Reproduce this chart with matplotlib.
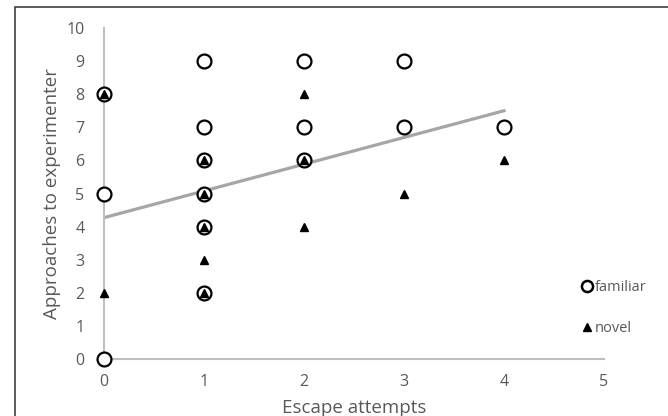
import matplotlib.pyplot as plt
from matplotlib.lines import Line2D
from matplotlib.patches import Rectangle

# values
familiar_x = [0, 0, 0, 1, 1, 1, 1, 1, 1, 2, 2, 2, 3, 3, 4]
familiar_y = [8, 5, 0, 9, 7, 6, 5, 4, 2, 9, 7, 6, 9, 7, 7]
novel_x = [0, 0, 1, 1, 1, 1, 1, 2, 2, 2, 3, 4]
novel_y = [8, 2, 6, 5, 4, 3, 2, 8, 6, 4, 5, 6]
trend_x = [0, 4]
trend_y = [4.27, 7.5]

xticks = [0, 1, 2, 3, 4, 5]
yticks = [0, 1, 2, 3, 4, 5, 6, 7, 8, 9, 10]

grey_txt = "#595959"
grey_ax = "#bfbfbf"

plt.rcParams['font.family'] = ['Open Sans', 'DejaVu Sans']

W, H = 668, 416
fig = plt.figure(figsize=(W / 100, H / 100), dpi=100)
ax = fig.add_axes([104 / W, (H - 359) / H, 500 / W, 331 / H])

# outer frame of the picture
fig.patches.append(Rectangle((15 / W, -0.1), 1.2, (H - 7) / H + 0.1,
                             transform=fig.transFigure, fill=False,
                             edgecolor="#404040", linewidth=1.2))

ax.set_xlim(0, 5)
ax.set_ylim(0, 10)
for s in ["top", "right"]:
    ax.spines[s].set_visible(False)
for s in ["left", "bottom"]:
    ax.spines[s].set_color(grey_ax)
    ax.spines[s].set_linewidth(1.5)
ax.set_xticks(xticks)
ax.set_yticks(yticks)
ax.tick_params(length=0, colors=grey_txt, labelsize=11.5)
ax.tick_params(axis="x", pad=11)
ax.tick_params(axis="y", pad=14)

ax.plot(familiar_x, familiar_y, linestyle="none", marker="o", ms=10,
        mfc="white", mec="black", mew=1.6, clip_on=False, zorder=3)
ax.plot(novel_x, novel_y, linestyle="none", marker="^", ms=6,
        color="black", clip_on=False, zorder=4)
ax.plot(trend_x, trend_y, color="#a6a6a6", linewidth=2.3, zorder=2)

ax.set_xlabel("Escape attempts", color=grey_txt, fontsize=13.5)
ax.set_ylabel("Approaches to experimenter", color=grey_txt, fontsize=13.5)
ax.xaxis.set_label_coords(0.5, (359 - 408) / 331)
ax.xaxis.label.set_va("center")
ax.yaxis.set_label_coords((52 - 104) / 500, 0.5)
ax.yaxis.label.set_va("center")

handles = [
    Line2D([], [], linestyle="none", marker="o", ms=8, mfc="white",
           mec="black", mew=1.8),
    Line2D([], [], linestyle="none", marker="^", ms=6, color="black"),
]
fig.legend(handles, ["familiar", "novel"], loc="center left",
           bbox_to_anchor=(574 / W, (H - 308) / H), frameon=False,
           fontsize=10.5, labelcolor=grey_txt, handlelength=0.8,
           handletextpad=0.1, labelspacing=1.75, borderpad=0)

fig.savefig("out.png", dpi=100)
